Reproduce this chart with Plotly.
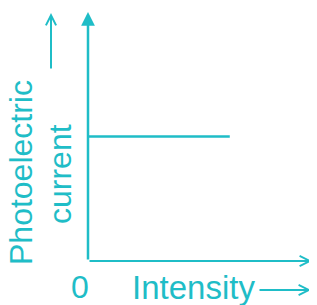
import plotly.graph_objects as go

# Data: saturation photocurrent is independent of intensity (constant line)
intensity = [0, 1]
photocurrent = [1, 1]

x_label = "Intensity"
y_label_lines = ["Photoelectric", "current"]
origin_label = "0"

TEAL = "#1fbdc7"
FONT = "Liberation Sans, Arial, sans-serif"

OFF = 8  # page body margin of the html page
W, H = 317 - OFF, 305 - OFF
L, R, T, B = 88 - OFF, 5, 12 - OFF, 44
PW, PH = W - L - R, H - T - B


def px(xp):
    return (xp - OFF - L) / PW


def py(yp):
    return (H - B - (yp - OFF)) / PH


fig = go.Figure()
fig.add_trace(go.Scatter(x=intensity, y=photocurrent, mode="lines",
                         line=dict(color=TEAL, width=2.5),
                         hoverinfo="skip", showlegend=False))

ann = []
# y axis with filled arrow
ann.append(dict(x=0, y=1, xref="paper", yref="paper", ax=0, ay=PH,
                axref="pixel", ayref="pixel", showarrow=True, arrowhead=2,
                arrowsize=1.1, arrowwidth=2.5, arrowcolor=TEAL, text="",
                standoff=0))
# x axis with open arrow
ann.append(dict(x=1, y=0, xref="paper", yref="paper", ax=-PW, ay=0,
                axref="pixel", ayref="pixel", showarrow=True, arrowhead=5,
                arrowsize=1.0, arrowwidth=2.0, arrowcolor=TEAL, text="",
                standoff=0))
# y label arrow
ann.append(dict(x=px(51), y=py(13), xref="paper", yref="paper", ax=0, ay=57,
                axref="pixel", ayref="pixel", showarrow=True, arrowhead=5,
                arrowsize=1.0, arrowwidth=2.0, arrowcolor=TEAL, text="",
                standoff=0))
# x label arrow
ann.append(dict(x=px(311), y=py(290), xref="paper", yref="paper", ax=-53, ay=0,
                axref="pixel", ayref="pixel", showarrow=True, arrowhead=5,
                arrowsize=1.0, arrowwidth=2.0, arrowcolor=TEAL, text="",
                standoff=0))
# texts
ann.append(dict(x=px(21), y=py(173), xref="paper", yref="paper",
                text=y_label_lines[0], textangle=-90, showarrow=False,
                xanchor="center", yanchor="middle", borderpad=0,
                font=dict(family=FONT, size=32, color=TEAL)))
ann.append(dict(x=px(60), y=py(174), xref="paper", yref="paper",
                text=y_label_lines[1], textangle=-90, showarrow=False,
                xanchor="center", yanchor="middle", borderpad=0,
                font=dict(family=FONT, size=32, color=TEAL)))
ann.append(dict(x=px(80), y=py(287), xref="paper", yref="paper",
                text=origin_label, showarrow=False,
                xanchor="center", yanchor="middle",
                font=dict(family=FONT, size=32, color=TEAL)))
ann.append(dict(x=px(193), y=py(287), xref="paper", yref="paper",
                text=x_label, showarrow=False,
                xanchor="center", yanchor="middle",
                font=dict(family=FONT, size=33, color=TEAL)))

fig.update_layout(
    width=W, height=H,
    margin=dict(l=L, r=R, t=T, b=B),
    paper_bgcolor="white", plot_bgcolor="white",
    xaxis=dict(visible=False, range=[0, 1.58], fixedrange=True),
    yaxis=dict(visible=False, range=[0, 2], fixedrange=True),
    annotations=ann,
    showlegend=False,
)

fig.write_html("out.html", config={"displayModeBar": False})
